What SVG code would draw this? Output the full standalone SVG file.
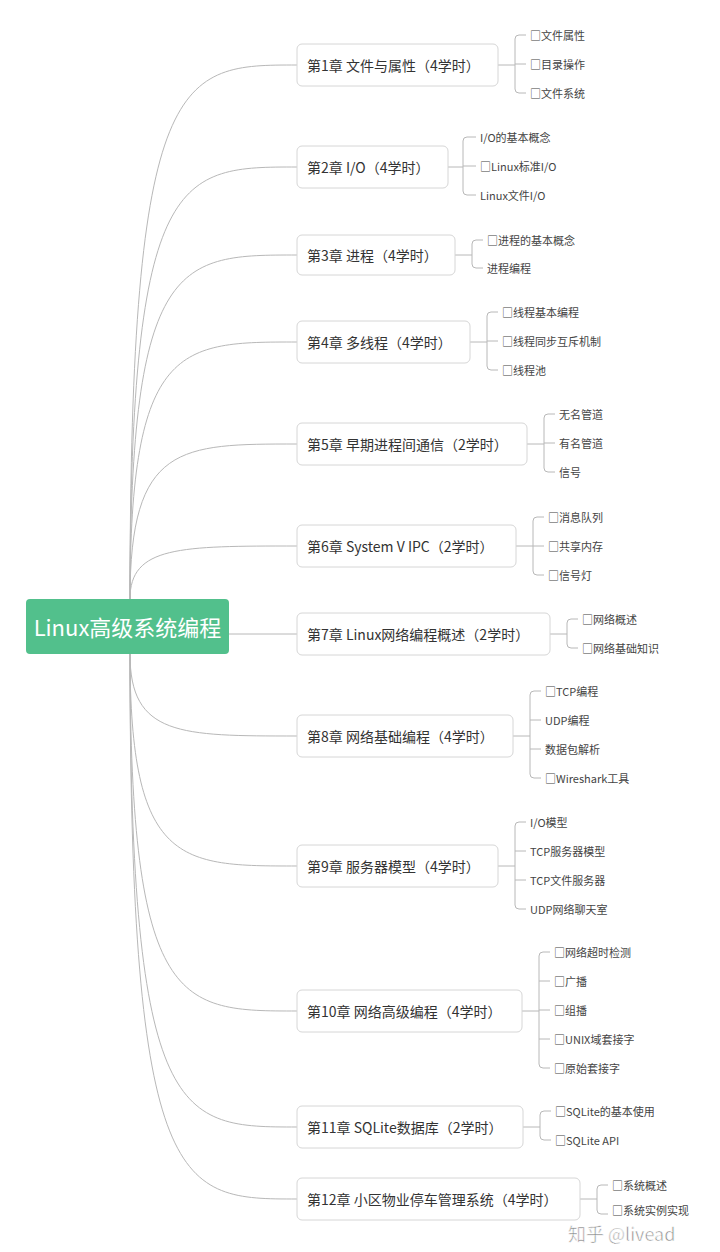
<svg xmlns="http://www.w3.org/2000/svg" width="720" height="1252" viewBox="0 0 720 1252">
<style>
.c{fill:none;stroke:#b8b8b8;stroke-width:1}
.b{fill:#fff;stroke:#d6d6d6;stroke-width:1}
.t{font-family:"Noto Sans CJK SC","Noto Sans",sans-serif;font-size:14px;fill:#333;dominant-baseline:central}
.l{font-family:"Noto Sans CJK SC","Noto Sans",sans-serif;font-size:11px;fill:#444;dominant-baseline:central}
</style>
<rect width="720" height="1252" fill="#fff"/>
<g id="connectors">
<path class="c" d="M130 599 C130 65 180 65 297 65"/>
<path class="c" d="M130 599 C130 167 180 167 297 167"/>
<path class="c" d="M130 599 C130 255 180 255 297 255"/>
<path class="c" d="M130 599 C130 342 180 342 297 342"/>
<path class="c" d="M130 599 C130 444 180 444 297 444"/>
<path class="c" d="M130 599 C130 546 180 546 297 546"/>
<path class="c" d="M229 634 L297 634"/>
<path class="c" d="M130 654 C130 736 180 736 297 736"/>
<path class="c" d="M130 654 C130 866 180 866 297 866"/>
<path class="c" d="M130 654 C130 1011 180 1011 297 1011"/>
<path class="c" d="M130 654 C130 1127 180 1127 297 1127"/>
<path class="c" d="M130 654 C130 1199 180 1199 297 1199"/>
<path class="c" d="M498 65H515 M526 35H519Q515 35 515 39V89Q515 93 519 93H526 M515 64H526"/>
<path class="c" d="M448 167H463 M476 137H467Q463 137 463 141V191Q463 195 467 195H476 M463 166H476"/>
<path class="c" d="M455 255H472 M483 240H476Q472 240 472 244V264Q472 268 476 268H483"/>
<path class="c" d="M470 342H487 M498 312H491Q487 312 487 316V366Q487 370 491 370H498 M487 341H498"/>
<path class="c" d="M527 444H544 M555 414H548Q544 414 544 418V468Q544 472 548 472H555 M544 443H555"/>
<path class="c" d="M516 546H533 M544 517H537Q533 517 533 521V571Q533 575 537 575H544 M533 546H544"/>
<path class="c" d="M550 634H567 M578 619H571Q567 619 567 623V644Q567 648 571 648H578"/>
<path class="c" d="M513 736H530 M541 691H534Q530 691 530 695V774Q530 778 534 778H541 M530 720H541 M530 749H541"/>
<path class="c" d="M498 866H515 M526 822H519Q515 822 515 826V905Q515 909 519 909H526 M515 851H526 M515 880H526"/>
<path class="c" d="M522 1011H539 M550 952H543Q539 952 539 956V1064Q539 1068 543 1068H550 M539 981H550 M539 1010H550 M539 1039H550"/>
<path class="c" d="M523 1127H540 M551 1111H544Q540 1111 540 1115V1136Q540 1140 544 1140H551"/>
<path class="c" d="M580 1199H597 M608 1185H601Q597 1185 597 1189V1210Q597 1214 601 1214H608"/>
</g>
<g id="root"><rect x="26" y="599" width="203" height="55" rx="4" fill="#52c08c"/><text x="127.5" y="626" text-anchor="middle" font-family="Noto Sans CJK SC,Noto Sans,sans-serif" font-size="22" fill="#fff" dominant-baseline="central">Linux高级系统编程</text></g>
<g id="ch1"><rect class="b" x="297" y="44" width="201" height="42" rx="5"/><text class="t" x="307" y="65">第1章 文件与属性（4学时）</text></g>
<g id="ch2"><rect class="b" x="297" y="146" width="151" height="42" rx="5"/><text class="t" x="307" y="167">第2章 I/O（4学时）</text></g>
<g id="ch3"><rect class="b" x="297" y="235" width="158" height="40" rx="5"/><text class="t" x="307" y="255">第3章 进程（4学时）</text></g>
<g id="ch4"><rect class="b" x="297" y="321" width="173" height="42" rx="5"/><text class="t" x="307" y="342">第4章 多线程（4学时）</text></g>
<g id="ch5"><rect class="b" x="297" y="423" width="230" height="42" rx="5"/><text class="t" x="307" y="444">第5章 早期进程间通信（2学时）</text></g>
<g id="ch6"><rect class="b" x="297" y="525" width="219" height="42" rx="5"/><text class="t" x="307" y="546">第6章 System V IPC（2学时）</text></g>
<g id="ch7"><rect class="b" x="297" y="613" width="253" height="42" rx="5"/><text class="t" x="307" y="634">第7章 Linux网络编程概述（2学时）</text></g>
<g id="ch8"><rect class="b" x="297" y="715" width="216" height="42" rx="5"/><text class="t" x="307" y="736">第8章 网络基础编程（4学时）</text></g>
<g id="ch9"><rect class="b" x="297" y="845" width="201" height="42" rx="5"/><text class="t" x="307" y="866">第9章 服务器模型（4学时）</text></g>
<g id="ch10"><rect class="b" x="297" y="990" width="225" height="42" rx="5"/><text class="t" x="307" y="1011">第10章 网络高级编程（4学时）</text></g>
<g id="ch11"><rect class="b" x="297" y="1106" width="226" height="42" rx="5"/><text class="t" x="307" y="1127">第11章 SQLite数据库（2学时）</text></g>
<g id="ch12"><rect class="b" x="297" y="1178" width="283" height="42" rx="5"/><text class="t" x="307" y="1199">第12章 小区物业停车管理系统（4学时）</text></g>
<g id="leaves">
<text class="l" x="530" y="35">□文件属性</text><text class="l" x="530" y="64">□目录操作</text><text class="l" x="530" y="93">□文件系统</text>
<text class="l" x="480" y="137">I/O的基本概念</text><text class="l" x="480" y="166">□Linux标准I/O</text><text class="l" x="480" y="195">Linux文件I/O</text>
<text class="l" x="487" y="240">□进程的基本概念</text><text class="l" x="487" y="268">进程编程</text>
<text class="l" x="502" y="312">□线程基本编程</text><text class="l" x="502" y="341">□线程同步互斥机制</text><text class="l" x="502" y="370">□线程池</text>
<text class="l" x="559" y="414">无名管道</text><text class="l" x="559" y="443">有名管道</text><text class="l" x="559" y="472">信号</text>
<text class="l" x="548" y="517">□消息队列</text><text class="l" x="548" y="546">□共享内存</text><text class="l" x="548" y="575">□信号灯</text>
<text class="l" x="582" y="619">□网络概述</text><text class="l" x="582" y="648">□网络基础知识</text>
<text class="l" x="545" y="691">□TCP编程</text><text class="l" x="545" y="720">UDP编程</text><text class="l" x="545" y="749">数据包解析</text><text class="l" x="545" y="778">□Wireshark工具</text>
<text class="l" x="530" y="822">I/O模型</text><text class="l" x="530" y="851">TCP服务器模型</text><text class="l" x="530" y="880">TCP文件服务器</text><text class="l" x="530" y="909">UDP网络聊天室</text>
<text class="l" x="554" y="952">□网络超时检测</text><text class="l" x="554" y="981">□广播</text><text class="l" x="554" y="1010">□组播</text><text class="l" x="554" y="1039">□UNIX域套接字</text><text class="l" x="554" y="1068">□原始套接字</text>
<text class="l" x="555" y="1111">□SQLite的基本使用</text><text class="l" x="555" y="1140">□SQLite API</text>
<text class="l" x="612" y="1185">□系统概述</text><text class="l" x="612" y="1210">□系统实例实现</text>
</g>
<text x="568" y="1233" font-family="Noto Sans CJK SC,Noto Sans,sans-serif" font-size="18" fill="#888" stroke="#fff" stroke-width="0.6" dominant-baseline="central">知乎 @livead</text>
</svg>
